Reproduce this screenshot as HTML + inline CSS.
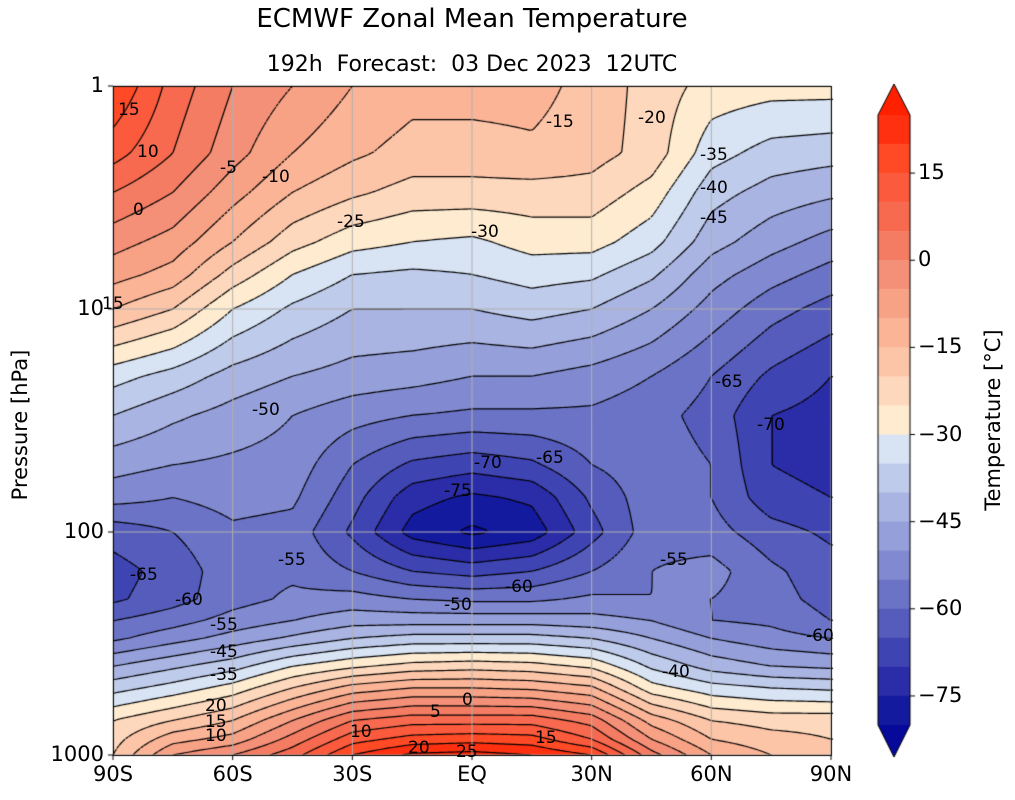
<!DOCTYPE html>
<html><head><meta charset="utf-8">
<style>
body{margin:0;background:#fff;width:1015px;height:800px;overflow:hidden;font-family:"DejaVu Sans","Liberation Sans",sans-serif;}
#wrap{position:relative;width:1015px;height:800px;}
canvas{position:absolute;left:0;top:0;}
.t{position:absolute;white-space:nowrap;color:#000;}
</style></head><body>
<div id="wrap">
<canvas id="cv" width="1015" height="800"></canvas>
<div class="t" style="left:0;width:944px;text-align:center;top:4px;font-size:26px;">ECMWF Zonal Mean Temperature</div>
<div class="t" style="left:0;width:944px;text-align:center;top:52px;font-size:22px;">192h&nbsp; Forecast:&nbsp; 03 Dec 2023&nbsp; 12UTC</div>
<div class="t" style="left:20px;top:425px;font-size:21px;transform:translate(-50%,-50%) rotate(-90deg);">Pressure [hPa]</div>
<div class="t" style="left:993px;top:420px;font-size:21px;transform:translate(-50%,-50%) rotate(-90deg);">Temperature [°C]</div>
<div id="labels"></div>
</div>
<script>
const lats=[-90,-75,-60,-45,-30,-15,0,15,30,45,60,75,90];
const levels=[1,2,3,5,7,10,20,30,50,70,100,150,200,250,300,400,500,700,850,1000];
const T=[
[20,8,0,-5,-10,-13,-13,-13,-17,-22,-27,-28,-28],
[12,5,-3,-10,-14,-17,-17,-16,-18,-22,-33,-37,-38],
[5,0,-8,-15,-19,-22,-22,-22,-22,-27,-38,-42,-44],
[-3,-7,-15,-23,-28,-30,-31,-28,-28,-33,-43,-48,-52],
[-8,-12,-22,-30,-35,-36,-35,-33,-34,-39,-48,-53,-57],
[-15,-20,-30,-36,-40,-40,-40,-38,-40,-45,-52,-58,-62],
[-33,-37,-42,-45,-47,-48,-50,-50,-52,-55,-60,-66,-70],
[-40,-44,-47,-50,-53,-55,-56,-56,-56,-58,-62,-70,-72],
[-48,-50,-51,-52,-60,-66,-68,-66,-60,-57,-60,-70,-72],
[-53,-55,-53,-54,-63,-73,-76,-74,-64,-57,-60,-68,-70],
[-63,-60,-56,-57,-66,-77,-81,-78,-67,-57,-58,-63,-66],
[-67,-63,-57,-56,-60,-65,-67,-65,-60,-55,-53,-59,-63],
[-66,-62,-57,-54,-53,-55,-56,-56,-54,-55,-55,-58,-62],
[-60,-57,-53,-50,-47,-47,-47,-47,-48,-50,-55,-56,-60],
[-56,-52,-48,-44,-40,-38,-38,-38,-40,-45,-50,-53,-55],
[-45,-41,-37,-30,-26,-23,-22,-23,-26,-36,-42,-45,-46],
[-37,-33,-28,-20,-13,-10,-10,-11,-14,-28,-33,-35,-36],
[-25,-20,-15,-5,5,8,8,8,3,-12,-20,-22,-22],
[-22,-12,-8,2,13,17,18,17,10,-5,-15,-18,-20],
[-20,-5,0,8,20,26,27,25,20,2,-10,-15,-18]];
const xTicks=[-90,-60,-30,0,30,60,90];
const xTickLabels=["90S","60S","30S","EQ","30N","60N","90N"];
const yTicks=[1,10,100,1000];
const cbTicks=[15,0,-15,-30,-45,-60,-75];
const cLevels=[];for(let v=-80;v<=25;v+=5)cLevels.push(v);
const colors=["#06099a","#141a9e","#2a2ca8","#3f44b3","#555cbc","#6b73c6","#818ad0","#959fda","#a9b4e2","#bfcbea","#d8e4f4","#ffecd0","#fed8bc","#fdc5a8","#fbb496","#f8a285","#f59078","#f47c62","#f76a4f","#fc5a3c","#ff4a25","#ff3010","#ff2000"];
const X0=113,X1=831,Y0=86,Y1=755;
const xs=l=>X0+(l+90)/180*(X1-X0);
const ys=p=>Y0+Math.log10(p)/3*(Y1-Y0);
const cv=document.getElementById('cv'),ctx=cv.getContext('2d');
const lyP=levels.map(p=>ys(p));
function val(px,py){
  let la=(px-X0)/(X1-X0)*180-90;
  let i=Math.min(lats.length-2,Math.max(0,Math.floor((la+90)/15)));
  let fx=(la-lats[i])/15;fx=Math.max(0,Math.min(1,fx));
  let j=0;while(j<levels.length-2&&lyP[j+1]<py)j++;
  let fy=(py-lyP[j])/(lyP[j+1]-lyP[j]);fy=Math.max(0,Math.min(1,fy));
  const a=T[j][i],b=T[j][i+1],c=T[j+1][i],d=T[j+1][i+1];
  return (a*(1-fx)+b*fx)*(1-fy)+(c*(1-fx)+d*fx)*fy;
}
function colIdx(v){let k=Math.floor((v+80)/5)+1;return Math.max(0,Math.min(colors.length-1,k));}
const W=X1-X0,H=Y1-Y0;
for(let y=0;y<H;y+=1){for(let x=0;x<W;x+=1){ctx.fillStyle=colors[colIdx(val(X0+x+0.5,Y0+y+0.5))];ctx.fillRect(X0+x,Y0+y,1,1);}}
const S=3,nx=Math.ceil(W/S)+1,ny=Math.ceil(H/S)+1,G=[];
for(let j=0;j<ny;j++){G.push([]);for(let i=0;i<nx;i++)G[j].push(val(X0+Math.min(W,i*S),Y0+Math.min(H,j*S)));}
ctx.lineWidth=1.2;ctx.strokeStyle="#000";
cLevels.forEach(L=>{
  ctx.beginPath();
  ctx.setLineDash(L<0?[3,1.5]:[]);
  for(let j=0;j<ny-1;j++)for(let i=0;i<nx-1;i++){
    const x0=X0+i*S,y0=Y0+j*S;
    const c=[[G[j][i],x0,y0],[G[j][i+1],x0+S,y0],[G[j+1][i+1],x0+S,y0+S],[G[j+1][i],x0,y0+S]];
    const pts=[];
    for(let k=0;k<4;k++){const p=c[k],q=c[(k+1)%4];
      if((p[0]<L)!==(q[0]<L)){const t=(L-p[0])/(q[0]-p[0]);pts.push([p[1]+t*(q[1]-p[1]),p[2]+t*(q[2]-p[2])]);}}
    for(let k=0;k+1<pts.length;k+=2){ctx.moveTo(pts[k][0],pts[k][1]);ctx.lineTo(pts[k+1][0],pts[k+1][1]);}
  }
  ctx.stroke();
});
ctx.setLineDash([]);
ctx.strokeStyle="#b0b0b0";ctx.lineWidth=1;
xTicks.forEach(l=>{ctx.beginPath();ctx.moveTo(xs(l),Y0);ctx.lineTo(xs(l),Y1);ctx.stroke();});
yTicks.forEach(p=>{ctx.beginPath();ctx.moveTo(X0,ys(p));ctx.lineTo(X1,ys(p));ctx.stroke();});
ctx.strokeStyle="#000";ctx.lineWidth=1;ctx.strokeRect(X0+0.5,Y0+0.5,W,H);
xTicks.forEach(l=>{ctx.beginPath();ctx.moveTo(xs(l),Y1);ctx.lineTo(xs(l),Y1+5);ctx.stroke();});
yTicks.forEach(p=>{ctx.beginPath();ctx.moveTo(X0,ys(p));ctx.lineTo(X0-5,ys(p));ctx.stroke();});
const CB0=878,CB1=910,CT=115,CBt=725;
const nb=cLevels.length-1,bh=(CBt-CT)/nb;
for(let k=0;k<nb;k++){ctx.fillStyle=colors[nb-k];ctx.fillRect(CB0,CT+k*bh,CB1-CB0,bh+0.5);}
ctx.fillStyle=colors[colors.length-1];ctx.beginPath();ctx.moveTo(CB0,CT);ctx.lineTo((CB0+CB1)/2,84);ctx.lineTo(CB1,CT);ctx.closePath();ctx.fill();
ctx.fillStyle=colors[0];ctx.beginPath();ctx.moveTo(CB0,CBt);ctx.lineTo((CB0+CB1)/2,757);ctx.lineTo(CB1,CBt);ctx.closePath();ctx.fill();
ctx.beginPath();ctx.moveTo(CB0,CT);ctx.lineTo((CB0+CB1)/2,84);ctx.lineTo(CB1,CT);ctx.lineTo(CB1,CBt);ctx.lineTo((CB0+CB1)/2,757);ctx.lineTo(CB0,CBt);ctx.closePath();ctx.stroke();
const cby=v=>CT+(25-v)/105*(CBt-CT);
cbTicks.forEach(v=>{ctx.beginPath();ctx.moveTo(CB1,cby(v));ctx.lineTo(CB1+5,cby(v));ctx.stroke();});
const lab=document.getElementById('labels');
function addLabel(txt,x,y,style,name){const d=document.createElement('div');d.className='t';d.textContent=txt;d.style.cssText=`left:${x}px;top:${y}px;`+style;


lab.appendChild(d);}
xTickLabels.forEach((t,i)=>addLabel(t,xs(xTicks[i]),762,'font-size:21px;transform:translateX(-50%);','x-tick-label'));
yTicks.forEach(p=>addLabel(String(p),0,ys(p)-13,'font-size:21px;width:104px;text-align:right;','y-tick-label'));
cbTicks.forEach(v=>addLabel(v<0?'\u2212'+(-v):String(v),918,cby(v)-13,'font-size:21px;','colorbar-tick-label'));
const cl=[["15",118,110],["10",137,152],["0",133,210],["-5",220,168],["-10",262,177],["-25",337,222],["-30",471,232],["-15",546,122],["-20",638,118],["-35",700,155],["-40",700,188],["-45",700,218],["15",102,304],["-50",252,410],["-65",715,382],["-70",757,425],["-70",474,463],["-65",536,458],["-75",444,491],["-55",278,560],["-55",660,560],["-65",130,575],["-60",175,600],["-60",505,587],["-50",444,605],["-55",210,625],["-45",210,652],["-35",210,675],["-40",662,672],["-60",806,636],["0",462,700],["5",430,712],["10",350,732],["20",408,748],["25",456,752],["15",535,738],["20",205,706],["15",205,722],["10",205,736]];
cl.forEach(c=>addLabel(c[0],c[1],c[2]-10,'font-size:17px;','contour-label'));
</script>
</body></html>
